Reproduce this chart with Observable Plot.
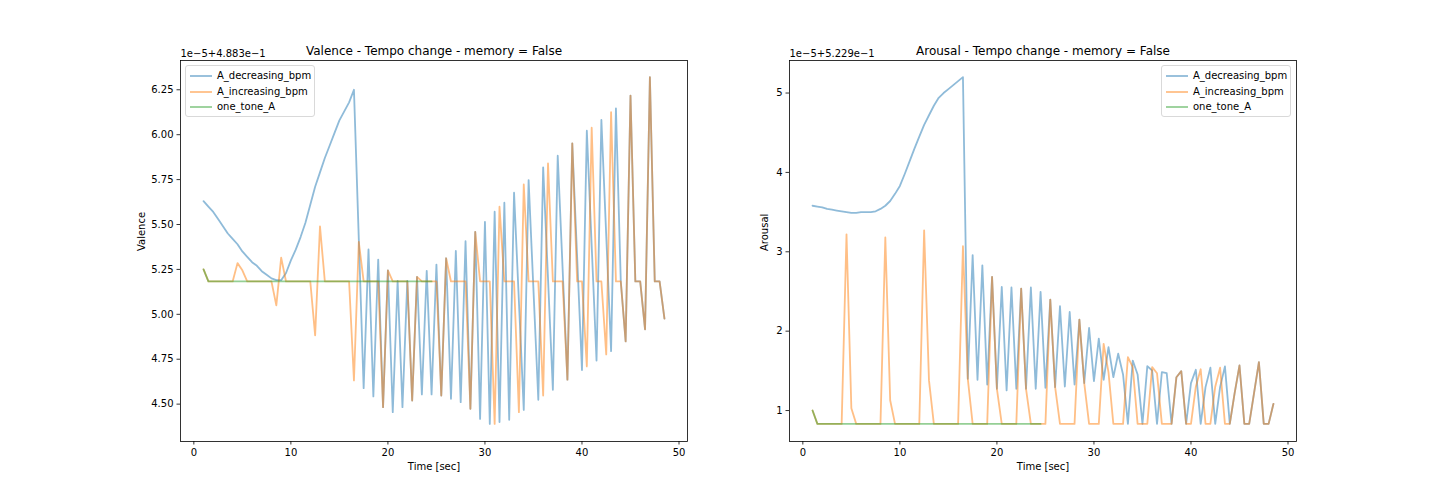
<!DOCTYPE html>
<html><head><meta charset="utf-8">
<script src="https://cdn.jsdelivr.net/npm/d3@7"></script>
<script src="https://cdn.jsdelivr.net/npm/@observablehq/plot@0.6"></script>
<style>
body{margin:0;background:#fff;font-family:"DejaVu Sans",sans-serif;}
#fig{position:relative;width:1440px;height:504px;overflow:hidden;background:#fff;}
.panel{position:absolute;top:0;}
.legend{position:absolute;box-sizing:border-box;border:1px solid #d9d9d9;border-radius:3px;background:rgba(255,255,255,0.8);font-size:10px;color:#000;}
.legend .row{position:absolute;left:0;height:14px;line-height:14px;white-space:nowrap;}
.legend svg{position:absolute;top:0;}
.legend span{position:absolute;top:0;}
</style></head>
<body><div id="fig"></div>
<script>
// ---- data ----
const time = [
1,1.5,2,2.5,3,3.5,4,4.5,5,5.5,
6,6.5,7,7.5,8,8.5,9,9.5,10,10.5,
11,11.5,12,12.5,13,13.5,14,14.5,15,15.5,
16,16.5,17,17.5,18,18.5,19,19.5,20,20.5,
21,21.5,22,22.5,23,23.5,24,24.5,25,25.5,
26,26.5,27,27.5,28,28.5,29,29.5,30,30.5,
31,31.5,32,32.5,33,33.5,34,34.5,35,35.5,
36,36.5,37,37.5,38,38.5,39,39.5,40,40.5,
41,41.5,42,42.5,43,43.5,44,44.5,45,45.5,
46,46.5,47,47.5,48,48.5];

const seriesNames = ["A_decreasing_bpm", "A_increasing_bpm", "one_tone_A"];
const seriesColors = ["#1f77b4", "#ff7f0e", "#2ca02c"];

// Valence (offset 1e-5 + 4.883e-1)
const valenceDecreasing = [
5.63,5.60,5.57,5.53,5.49,5.45,5.42,5.39,5.35,5.32,
5.29,5.27,5.24,5.22,5.20,5.19,5.19,5.23,5.30,5.36,
5.43,5.51,5.61,5.71,5.79,5.87,5.94,6.01,6.08,6.13,
6.18,6.25,null,4.589,5.361,4.543,5.305,4.483,5.245,4.455,
5.186,4.483,5.186,4.52,5.208,4.554,5.242,4.554,5.277,4.548,
5.312,4.53,5.353,4.511,5.407,4.474,5.459,4.418,5.515,4.39,
5.571,4.40,5.621,4.413,5.677,null,4.468,5.747,null,4.524,
5.818,null,4.58,5.883,null,4.636,5.952,null,4.69,6.022,
null,4.743,6.082,null,4.795,6.147,5.183,4.849,6.218,5.183,
5.183,4.916,6.32,5.183,5.183,4.976];
const valenceIncreasing = [
5.25,5.183,5.183,5.183,5.183,5.183,5.183,5.285,5.245,5.183,
5.183,5.183,5.183,5.183,5.183,5.05,5.316,5.183,5.183,5.183,
5.183,5.183,5.183,4.883,5.49,5.183,5.183,5.183,5.183,5.183,
5.183,4.632,5.403,5.183,5.183,5.183,5.183,4.483,5.245,5.183,
5.183,5.183,5.183,4.52,5.208,5.183,5.183,5.183,5.183,4.548,
5.312,5.183,5.183,5.183,5.183,4.474,5.459,5.183,5.183,5.183,
4.39,5.599,5.183,5.183,5.183,4.455,5.723,5.183,5.183,5.183,
4.548,5.84,5.183,5.183,5.183,4.636,5.952,5.183,5.183,4.71,
6.039,5.183,5.183,4.777,6.125,5.183,5.183,4.849,6.218,5.183,
5.183,4.916,6.32,5.183,5.183,4.976];
const valenceOneTone = [
5.25,5.183,5.183,5.183,5.183,5.183,5.183,5.183,5.183,5.183,
5.183,5.183,5.183,5.183,5.183,5.183,5.183,5.183,5.183,5.183,
5.183,5.183,5.183,5.183,5.183,5.183,5.183,5.183,5.183,5.183,
5.183,5.183,5.183,5.183,5.183,5.183,5.183,5.183,5.183,5.183,
5.183,5.183,5.183,5.183,5.183,5.183,5.183,5.183];

// Arousal (offset 1e-5 + 5.229e-1)
const arousalDecreasing = [
3.58,3.57,3.56,3.54,3.53,3.52,3.51,3.50,3.49,3.49,
3.50,3.50,3.50,3.51,3.54,3.58,3.64,3.73,3.83,3.98,
4.14,4.30,4.45,4.60,4.72,4.84,4.94,5.00,5.05,5.10,
5.15,5.20,1.40,2.958,1.388,2.83,1.328,2.684,1.274,2.557,
1.253,2.55,1.274,2.537,1.274,2.55,1.274,2.495,1.287,2.398,
1.295,2.314,1.303,2.242,1.328,2.146,1.345,2.04,1.37,1.905,
1.388,1.80,1.42,1.716,1.455,0.832,1.63,1.455,0.832,1.56,
1.505,0.832,1.484,1.47,0.832,1.42,1.497,0.832,1.345,1.514,
0.832,1.295,1.54,0.832,1.295,1.556,0.832,1.22,1.568,0.832,
0.832,1.22,1.61,0.832,0.832,1.085];
const arousalIncreasing = [
1.0,0.832,0.832,0.832,0.832,0.832,0.832,3.22,1.03,0.832,
0.832,0.832,0.832,0.832,0.832,3.18,1.13,0.832,0.832,0.832,
0.832,0.832,0.832,3.27,1.38,0.832,0.832,0.832,0.832,0.832,
0.832,3.07,1.40,0.832,0.832,0.832,0.832,2.684,1.274,0.832,
0.832,0.832,0.832,2.537,1.274,0.832,0.832,0.832,0.832,2.398,
1.295,0.832,0.832,0.832,0.832,2.146,1.345,0.832,0.832,0.832,
1.84,1.48,0.832,0.832,0.832,1.674,1.547,0.832,0.832,0.832,
1.547,1.47,0.832,0.832,0.832,1.42,1.497,0.832,0.832,1.30,
1.52,0.832,0.832,1.30,1.54,0.832,0.832,1.22,1.568,0.832,
0.832,1.22,1.61,0.832,0.832,1.085];
const arousalOneTone = [
1.0,0.832,0.832,0.832,0.832,0.832,0.832,0.832,0.832,0.832,
0.832,0.832,0.832,0.832,0.832,0.832,0.832,0.832,0.832,0.832,
0.832,0.832,0.832,0.832,0.832,0.832,0.832,0.832,0.832,0.832,
0.832,0.832,0.832,0.832,0.832,0.832,0.832,0.832,0.832,0.832,
0.832,0.832,0.832,0.832,0.832,0.832,0.832,0.832];

const xTicks = [0, 10, 20, 30, 40, 50];
const valenceTicks = [4.50, 4.75, 5.00, 5.25, 5.50, 5.75, 6.00, 6.25];
const arousalTicks = [1, 2, 3, 4, 5];

const panels = [
  {title: "Valence - Tempo change - memory = False", ylabel: "Valence", offset: "1e\u22125+4.883e\u22121",
   series: [valenceDecreasing, valenceIncreasing, valenceOneTone], yDomain: [4.292, 6.413],
   yTicks: valenceTicks, yFormat: d3.format(".2f"), left: 0, mL: 180, mR: 33, ylabelDx: -39,
   legendLeft: 185},
  {title: "Arousal - Tempo change - memory = False", ylabel: "Arousal", offset: "1e\u22125+5.229e\u22121",
   series: [arousalDecreasing, arousalIncreasing, arousalOneTone], yDomain: [0.61, 5.41],
   yTicks: arousalTicks, yFormat: d3.format("d"), left: 720, mL: 69, mR: 144, ylabelDx: -25,
   legendLeft: 1161}
];

function rows(vals) {
  return vals.map((v, i) => ({t: time[i], v})).filter(d => d.v != null);
}

const fig = document.getElementById("fig");
for (const p of panels) {
  const chart = Plot.plot({
    width: 720, height: 504,
    marginLeft: p.mL, marginRight: p.mR, marginTop: 60, marginBottom: 63,
    style: {fontFamily: "DejaVu Sans", fontSize: "10px", color: "#000", background: "transparent", overflow: "visible"},
    x: {domain: [-1.375, 50.875]},
    y: {domain: p.yDomain},
    marks: [
      ...p.series.map((s, k) => Plot.line(rows(s), {x: "t", y: "v", stroke: seriesColors[k], strokeOpacity: 0.5, strokeWidth: 1.8})),
      Plot.frame({stroke: "#000", strokeWidth: 0.8}),
      Plot.axisX({ticks: xTicks, tickFormat: d => String(d), tickSize: 3.5, tickPadding: 3.5, strokeWidth: 0.8, label: null, fontSize: 10}),
      Plot.axisY({ticks: p.yTicks, tickFormat: p.yFormat, tickSize: 3.5, tickPadding: 3.5, strokeWidth: 0.8, label: null, fontSize: 10}),
      Plot.text(["Time [sec]"], {frameAnchor: "bottom", dy: 28, fontSize: 10}),
      Plot.text([p.ylabel], {frameAnchor: "left", rotate: -90, dx: p.ylabelDx, fontSize: 10}),
      Plot.text([p.title], {frameAnchor: "top", dy: -14, fontSize: 12}),
      Plot.text([p.offset], {frameAnchor: "top-left", textAnchor: "start", dy: -11, fontSize: 10})
    ]
  });
  chart.classList.add("panel");
  chart.style.left = p.left + "px";
  fig.appendChild(chart);

  // legend
  const lg = document.createElement("div");
  lg.className = "legend";
  lg.style.left = p.legendLeft + "px";
  lg.style.top = "65px";
  lg.style.width = "130px";
  lg.style.height = "52px";
  seriesNames.forEach((name, k) => {
    const row = document.createElement("div");
    row.className = "row";
    row.style.top = (3 + k * 15.5) + "px";
    row.style.width = "128px";
    row.innerHTML = `<svg width="30" height="14" style="left:3px"><line x1="1" x2="23" y1="7" y2="7" stroke="${seriesColors[k]}" stroke-opacity="0.5" stroke-width="1.8"/></svg><span style="left:31px">${name}</span>`;
    lg.appendChild(row);
  });
  fig.appendChild(lg);
}
</script></body></html>
